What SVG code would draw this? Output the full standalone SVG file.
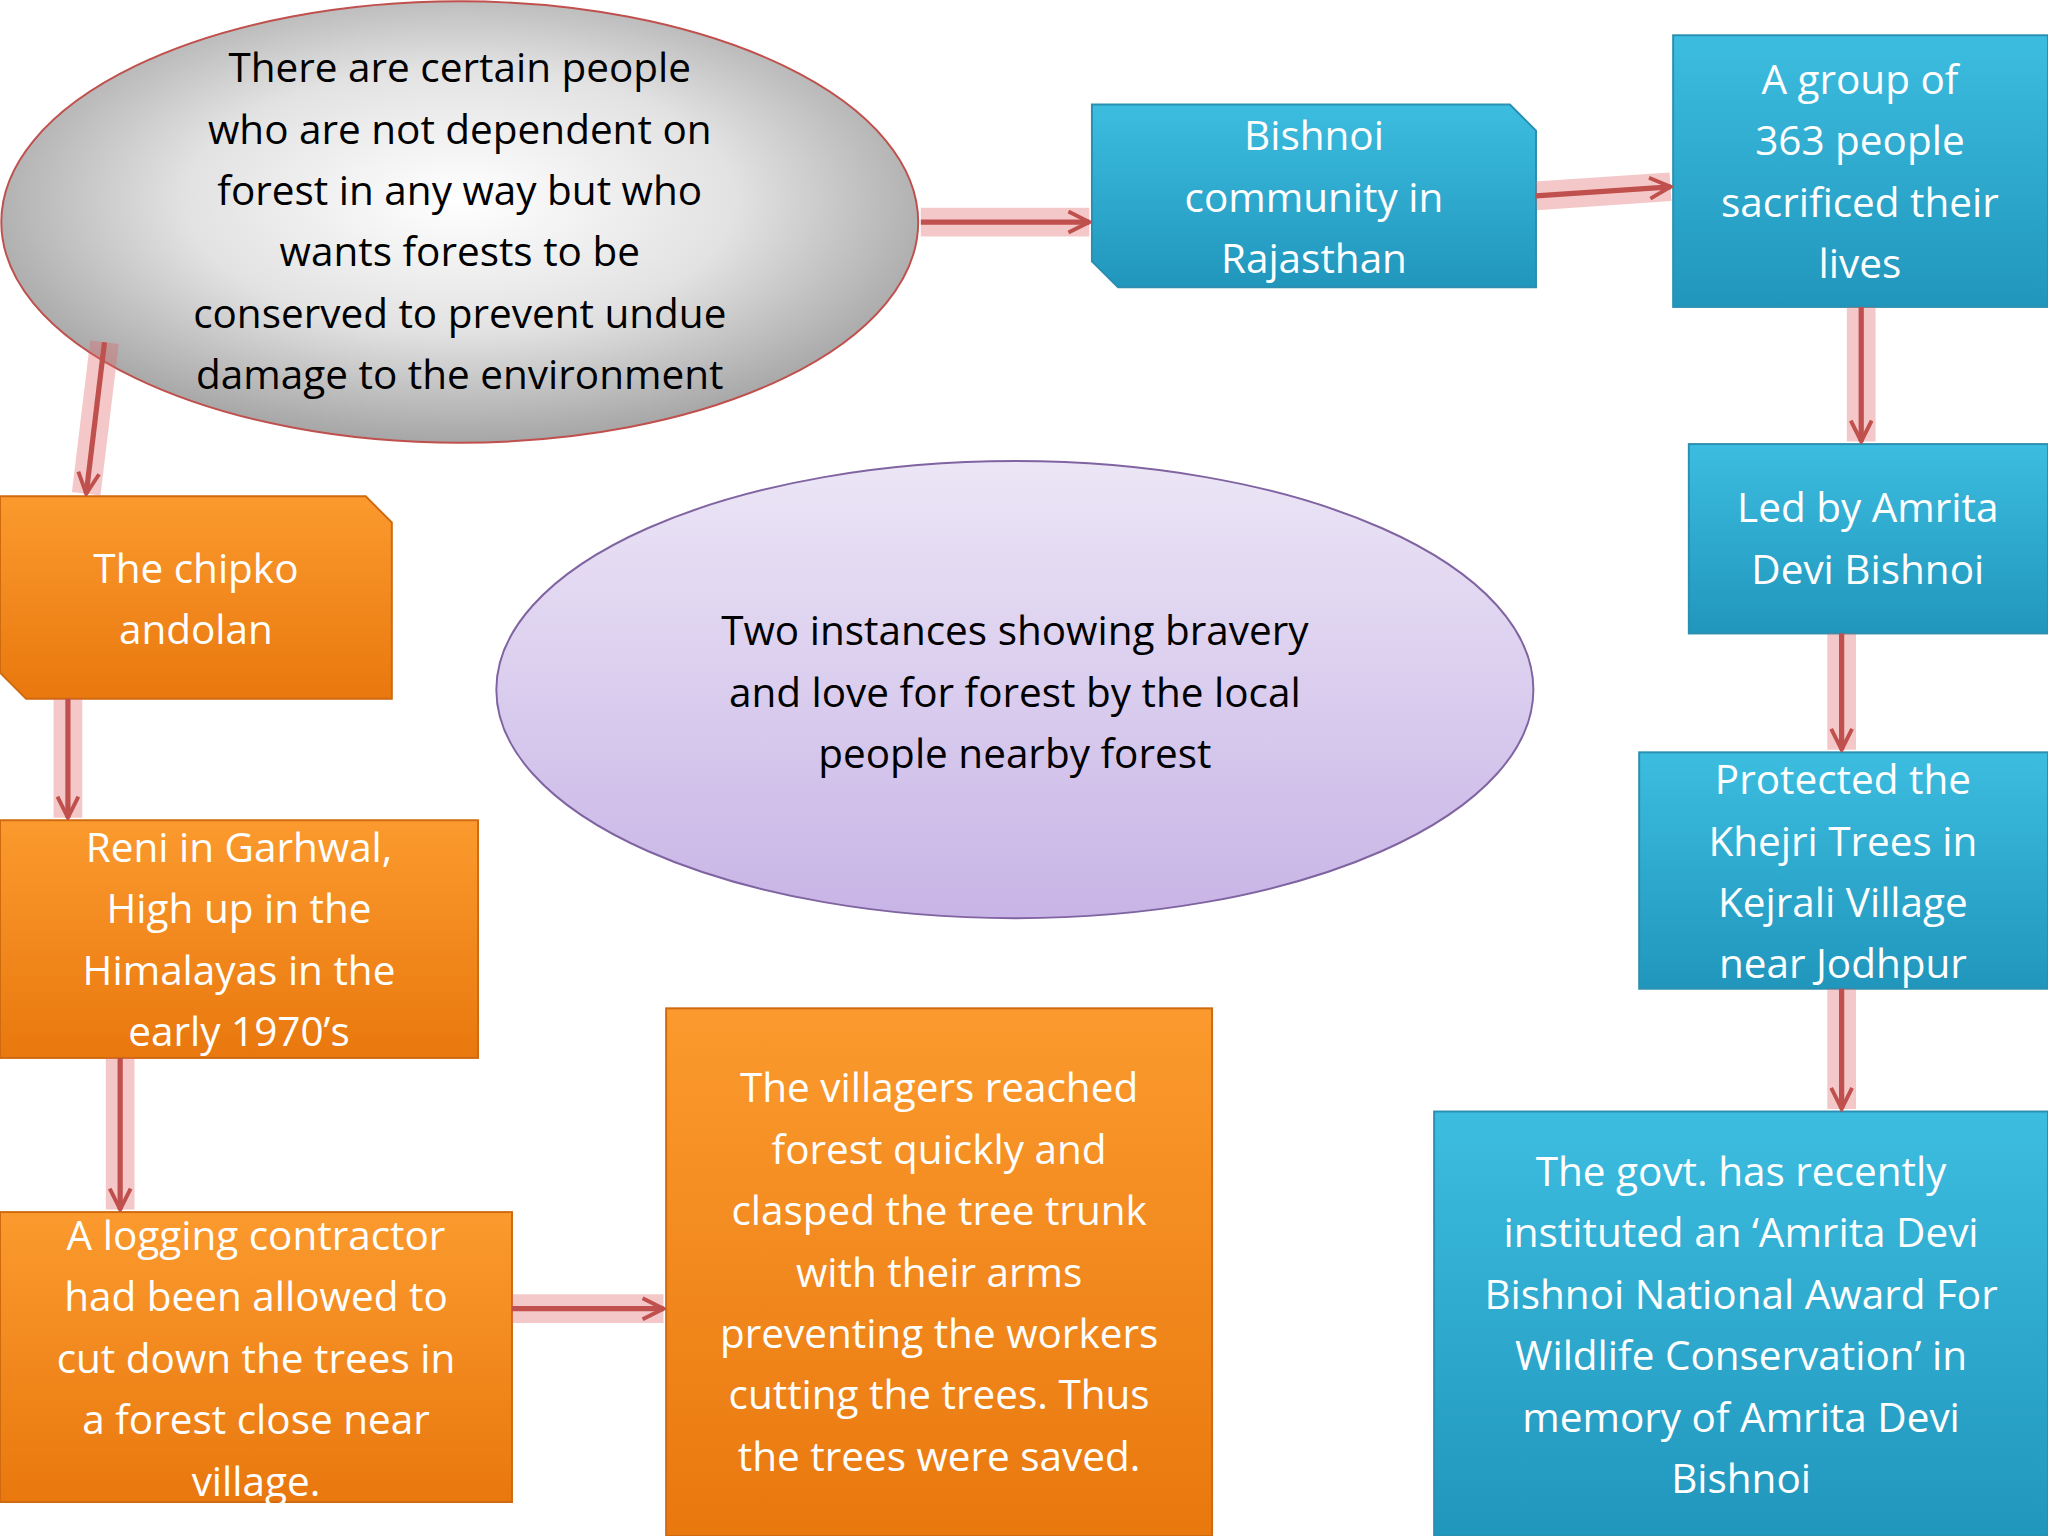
<svg xmlns="http://www.w3.org/2000/svg" width="2048" height="1536" viewBox="0 0 2048 1536">
<defs>
<radialGradient id="gray" cx="0.5" cy="0.45" r="0.6"><stop offset="0" stop-color="#ffffff"/><stop offset="0.5" stop-color="#e2e2e2"/><stop offset="1" stop-color="#9a9a9a"/></radialGradient>
<linearGradient id="purple" x1="0" y1="0" x2="0" y2="1"><stop offset="0" stop-color="#ece6f6"/><stop offset="1" stop-color="#c8b4e6"/></linearGradient>
<linearGradient id="blue" x1="0" y1="0" x2="0" y2="1"><stop offset="0" stop-color="#3cbde0"/><stop offset="1" stop-color="#2196bc"/></linearGradient>
<linearGradient id="orange" x1="0" y1="0" x2="0" y2="1"><stop offset="0" stop-color="#fb9a2e"/><stop offset="1" stop-color="#e9780e"/></linearGradient>
<marker id="ah" viewBox="0 0 10 10" refX="9" refY="5" markerWidth="5" markerHeight="5" orient="auto" markerUnits="strokeWidth"><path d="M1,1 L9,5 L1,9" fill="none" stroke="#c0504d" stroke-width="1.5"/></marker>
</defs>
<style>
.t{font-family:"Open Sans",Lato,sans-serif;font-size:31px;fill:#fff;text-anchor:middle}
.k{font-family:"Open Sans",Lato,sans-serif;font-size:31px;fill:#000;text-anchor:middle}
.b{fill:url(#blue);stroke:#2a8fb0;stroke-width:1.5}
.o{fill:url(#orange);stroke:#d06a10;stroke-width:1.5}
.glow{stroke:#e06060;stroke-opacity:0.35;stroke-width:22;fill:none}
.ln{stroke:#c0504d;stroke-width:4;fill:none;marker-end:url(#ah)}
</style>
<g transform="scale(1.30612)">
<g id="n1"><ellipse cx="352" cy="170" rx="351" ry="169" fill="url(#gray)" stroke="#c0504d" stroke-width="1.5"/>
<text class="k" x="352" y="63">There are certain people</text><text class="k" x="352" y="110">who are not dependent on</text><text class="k" x="352" y="157">forest in any way but who</text><text class="k" x="352" y="204">wants forests to be</text><text class="k" x="352" y="251">conserved to prevent undue</text><text class="k" x="352" y="298">damage to the environment</text></g>
<g id="n2"><ellipse cx="777" cy="528" rx="397" ry="175" fill="url(#purple)" stroke="#8064a2" stroke-width="1.5"/>
<text class="k" x="777" y="494">Two instances showing bravery</text><text class="k" x="777" y="541">and love for forest by the local</text><text class="k" x="777" y="588">people nearby forest</text></g>
<g id="n3"><path class="b" d="M836,80 H1156 L1176,100 V220 H856 L836,200 Z"/>
<text class="t" x="1006" y="115">Bishnoi</text><text class="t" x="1006" y="162">community in</text><text class="t" x="1006" y="209">Rajasthan</text></g>
<g id="n4"><rect class="b" x="1281" y="27" width="287" height="208"/>
<text class="t" x="1424" y="72">A group of</text><text class="t" x="1424" y="119">363 people</text><text class="t" x="1424" y="166">sacrificed their</text><text class="t" x="1424" y="213">lives</text></g>
<g id="n5"><rect class="b" x="1293" y="340" width="275" height="145"/>
<text class="t" x="1430" y="400">Led by Amrita</text><text class="t" x="1430" y="447">Devi Bishnoi</text></g>
<g id="n6"><rect class="b" x="1255" y="576" width="313" height="181"/>
<text class="t" x="1411" y="608">Protected the</text><text class="t" x="1411" y="655">Khejri Trees in</text><text class="t" x="1411" y="702">Kejrali Village</text><text class="t" x="1411" y="749">near Jodhpur</text></g>
<g id="n7"><rect class="b" x="1098" y="851" width="470" height="325"/>
<text class="t" x="1333" y="908">The govt. has recently</text><text class="t" x="1333" y="955">instituted an ‘Amrita Devi</text><text class="t" x="1333" y="1002">Bishnoi National Award For</text><text class="t" x="1333" y="1049">Wildlife Conservation’ in</text><text class="t" x="1333" y="1096">memory of Amrita Devi</text><text class="t" x="1333" y="1143">Bishnoi</text></g>
<g id="n8"><path class="o" d="M0,380 H280 L300,400 V535 H20 L0,515 Z"/>
<text class="t" x="150" y="446">The chipko</text><text class="t" x="150" y="493">andolan</text></g>
<g id="n9"><rect class="o" x="0" y="628" width="366" height="182"/>
<text class="t" x="183" y="660">Reni in Garhwal,</text><text class="t" x="183" y="707">High up in the</text><text class="t" x="183" y="754">Himalayas in the</text><text class="t" x="183" y="801">early 1970’s</text></g>
<g id="n10"><rect class="o" x="0" y="928" width="392" height="222"/>
<text class="t" x="196" y="957">A logging contractor</text><text class="t" x="196" y="1004">had been allowed to</text><text class="t" x="196" y="1051">cut down the trees in</text><text class="t" x="196" y="1098">a forest close near</text><text class="t" x="196" y="1145">village.</text></g>
<g id="n11"><rect class="o" x="510" y="772" width="418" height="404"/>
<text class="t" x="719" y="844">The villagers reached</text><text class="t" x="719" y="891">forest quickly and</text><text class="t" x="719" y="938">clasped the tree trunk</text><text class="t" x="719" y="985">with their arms</text><text class="t" x="719" y="1032">preventing the workers</text><text class="t" x="719" y="1079">cutting the trees. Thus</text><text class="t" x="719" y="1126">the trees were saved.</text></g>
<g id="connectors">
<path class="glow" d="M705,170 H834"/><path class="ln" d="M705,170 H834"/>
<path class="glow" d="M1176,150 L1279,143"/><path class="ln" d="M1176,150 L1279,143"/>
<path class="glow" d="M1425,235 V338"/><path class="ln" d="M1425,235 V338"/>
<path class="glow" d="M1410,485 V574"/><path class="ln" d="M1410,485 V574"/>
<path class="glow" d="M1410,757 V849"/><path class="ln" d="M1410,757 V849"/>
<path class="glow" d="M80,262 L66,378"/><path class="ln" d="M80,262 L66,378"/>
<path class="glow" d="M52,535 V626"/><path class="ln" d="M52,535 V626"/>
<path class="glow" d="M92,810 V926"/><path class="ln" d="M92,810 V926"/>
<path class="glow" d="M392,1002 H508"/><path class="ln" d="M392,1002 H508"/>
</g>
</g>
</svg>
